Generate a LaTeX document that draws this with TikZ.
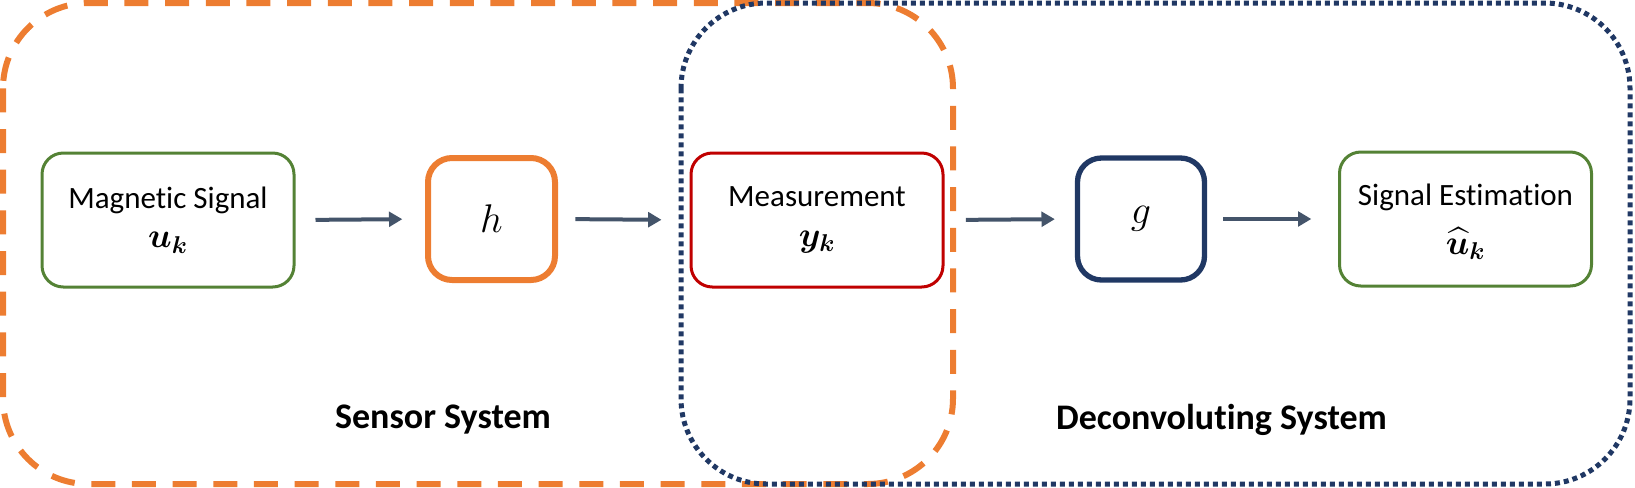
\RequirePackage{fix-cm}
\documentclass[tikz,border=0pt]{standalone}
\usepackage{amsmath,bm}
\usepackage{fontspec}
\setmainfont{Carlito}[Ligatures=NoCommon]
\usetikzlibrary{arrows.meta}
\definecolor{corange}{HTML}{ED7D31}
\definecolor{cnavy}{HTML}{203864}
\definecolor{cgreen}{HTML}{548235}
\definecolor{cred}{HTML}{C00000}
\definecolor{carrow}{HTML}{44546A}
\newcommand{\mth}[1]{\scalebox{1.12}{$#1$}}
\begin{document}
\begin{tikzpicture}[x=0.75pt,y=-0.75pt,
  txtbox/.style={draw=cgreen, line width=2.25pt, rounded corners=16pt,
    minimum width=252*0.75pt, minimum height=134*0.75pt, inner sep=0pt,
    align=center, font=\fontsize{23.25}{28.5}\selectfont},
  opbox/.style={line width=4.5pt, rounded corners=18pt,
    minimum width=127*0.75pt, minimum height=122*0.75pt, inner sep=0pt,
    font=\fontsize{24}{26}\selectfont},
  arr/.style={draw=carrow, line width=3pt,
    -{Triangle[length=10pt,width=11pt]}},
  syslabel/.style={font=\fontsize{27}{30}\selectfont\bfseries, inner sep=0pt}
]
\useasboundingbox (0,0) rectangle (1635,487);
% containers
\draw[corange, line width=4.5pt, dash pattern=on 18pt off 12.5pt, rounded corners=64pt]
  (3,3) rectangle (953,484);
\draw[cnavy, line width=3.75pt, dash pattern=on 3.75pt off 3pt, rounded corners=64pt]
  (681,3) rectangle (1630,484);
% blocks
\node[txtbox] (mag) at (168,220) {Magnetic Signal\\[1pt]\mth{\bm{u_k}}};
\node[opbox, draw=corange] (h) at (491.5,219) {\scalebox{1.25}{$h$}};
\node[txtbox, draw=cred] (meas) at (817,220) {Measurement\\[1pt]\mth{\bm{y_k}}};
\node[opbox, draw=cnavy, line width=4pt] (g) at (1141,219) {\scalebox{1.25}{$g$}};
\node[txtbox, text depth=0pt] (est) at (1465.5,219) {Signal Estimation\\[8pt]\mth{\bm{\widehat{u}_k}}};
% arrows
\draw[arr, shorten <=15pt, shorten >=17pt] (mag.east) -- (h.west);
\draw[arr, shorten <=13pt, shorten >=21pt] (h.east) -- (meas.west);
\draw[arr, shorten <=16pt, shorten >=15pt] (meas.east) -- (g.west);
\draw[arr, shorten <=12pt, shorten >=20pt] (g.east) -- (est.west);
% labels
\node[syslabel] (sens) at (443,420) {Sensor System};
\node[syslabel] (deco) at (1221.5,420) {Deconvoluting System};
\end{tikzpicture}
\end{document}
